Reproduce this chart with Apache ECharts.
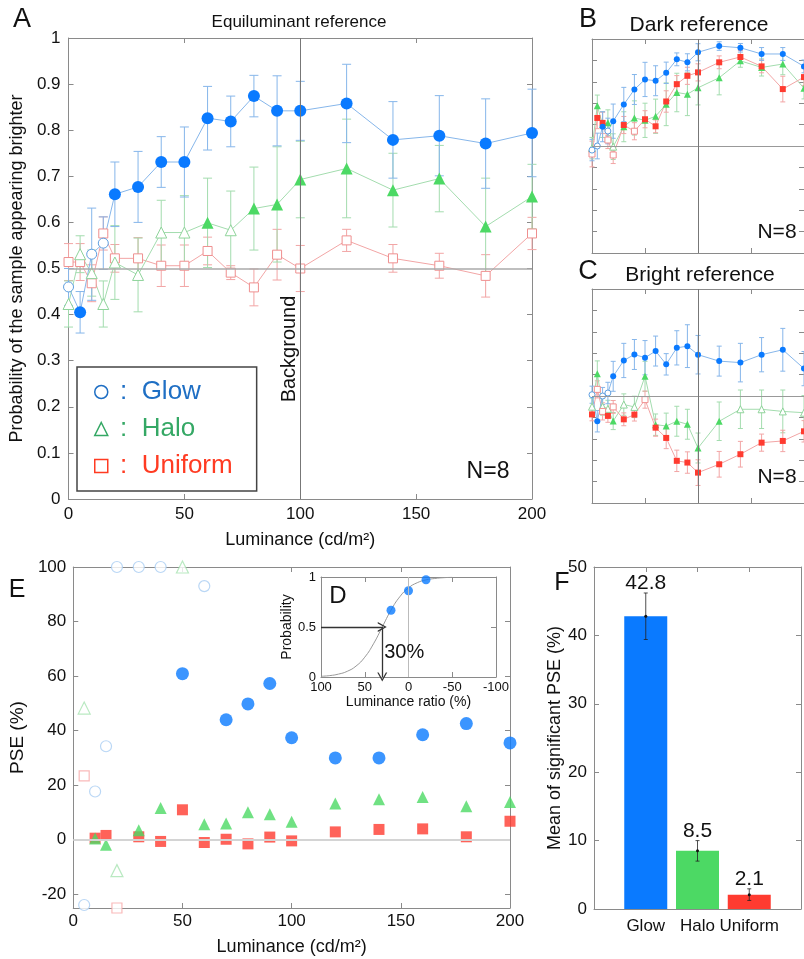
<!DOCTYPE html>
<html>
<head>
<meta charset="utf-8">
<script src="https://cdn.jsdelivr.net/npm/echarts@6/dist/echarts.min.js"></script>
<style>
html, body { margin: 0; padding: 0; background: #fff; }
#chart { width: 804px; height: 959px; }
</style>
</head>
<body>
<div id="chart"></div>
<script>
// luminance steps (cd/m2) used in panels A, B, C
const lum = [0, 5, 10, 15, 20, 30, 40, 50, 60, 70, 80, 90, 100, 120, 140, 160, 180, 200]

// A: equiluminant reference (probability, error, filled = significant)
const eqGlow = [0.46, 0.405, 0.531, 0.555, 0.661, 0.677, 0.731, 0.731, 0.826, 0.819, 0.874, 0.842, 0.842, 0.858, 0.779, 0.788, 0.771, 0.794]
const eqGlowErr = [0.04, 0.045, 0.1, 0.057, 0.07, 0.077, 0.055, 0.076, 0.069, 0.055, 0.045, 0.076, 0.064, 0.085, 0.083, 0.087, 0.097, 0.095]
const eqGlowSig = [0, 1, 0, 0, 1, 1, 1, 1, 1, 1, 1, 1, 1, 1, 1, 1, 1, 1]
const eqHalo = [0.423, 0.531, 0.49, 0.423, 0.513, 0.486, 0.578, 0.578, 0.599, 0.583, 0.63, 0.639, 0.693, 0.717, 0.67, 0.695, 0.591, 0.656]
const eqHaloErr = [0.05, 0.04, 0.05, 0.05, 0.08, 0.08, 0.07, 0.08, 0.097, 0.085, 0.09, 0.125, 0.083, 0.107, 0.08, 0.072, 0.105, 0.07]
const eqHaloSig = [0, 0, 0, 0, 0, 0, 0, 0, 1, 0, 1, 1, 1, 1, 1, 1, 1, 1]
const eqUni = [0.514, 0.514, 0.468, 0.576, 0.522, 0.522, 0.506, 0.506, 0.538, 0.491, 0.459, 0.53, 0.5, 0.561, 0.522, 0.506, 0.484, 0.576]
const eqUniErr = [0.04, 0.04, 0.04, 0.036, 0.03, 0.045, 0.045, 0.045, 0.03, 0.015, 0.04, 0.055, 0.05, 0.024, 0.03, 0.027, 0.046, 0.035]
const eqUniSig = [0, 0, 0, 0, 0, 0, 0, 0, 0, 0, 0, 0, 0, 0, 0, 0, 0, 0]

// B: dark reference
const dkGlow = [0.481, 0.5, 0.59, 0.57, 0.616, 0.694, 0.764, 0.811, 0.805, 0.842, 0.905, 0.891, 0.938, 0.967, 0.959, 0.93, 0.93, 0.872]
const dkGlowErr = [0.05, 0.06, 0.07, 0.06, 0.08, 0.08, 0.07, 0.08, 0.07, 0.05, 0.03, 0.04, 0.04, 0.02, 0.02, 0.03, 0.03, 0.03]
const dkGlowSig = [0, 0, 1, 0, 1, 1, 1, 1, 1, 1, 1, 1, 1, 1, 1, 1, 1, 1]
const dkHalo = [0.49, 0.688, 0.6, 0.609, 0.497, 0.59, 0.631, 0.62, 0.639, 0.695, 0.75, 0.742, 0.772, 0.819, 0.898, 0.867, 0.883, 0.77]
const dkHaloErr = [0.05, 0.05, 0.06, 0.06, 0.06, 0.07, 0.08, 0.08, 0.08, 0.1, 0.09, 0.1, 0.08, 0.08, 0.03, 0.04, 0.05, 0.05]
const dkHaloSig = [0, 1, 1, 1, 0, 1, 1, 1, 1, 1, 1, 1, 1, 1, 1, 1, 1, 1]
const dkUni = [0.4625, 0.631, 0.608, 0.528, 0.458, 0.598, 0.569, 0.625, 0.592, 0.708, 0.789, 0.828, 0.844, 0.891, 0.916, 0.872, 0.766, 0.822]
const dkUniErr = [0.06, 0.05, 0.05, 0.04, 0.04, 0.04, 0.04, 0.04, 0.03, 0.05, 0.04, 0.04, 0.04, 0.03, 0.03, 0.03, 0.06, 0.04]
const dkUniSig = [0, 1, 1, 0, 0, 1, 0, 1, 1, 1, 1, 1, 1, 1, 1, 1, 1, 1]

// C: bright reference
const brGlow = [0.506, 0.382, 0.5, 0.514, 0.592, 0.666, 0.694, 0.679, 0.71, 0.648, 0.725, 0.733, 0.693, 0.663, 0.656, 0.693, 0.716, 0.628]
const brGlowErr = [0.04, 0.05, 0.04, 0.05, 0.07, 0.08, 0.07, 0.08, 0.07, 0.05, 0.08, 0.1, 0.09, 0.07, 0.09, 0.08, 0.1, 0.08]
const brGlowSig = [0, 1, 0, 0, 1, 1, 1, 1, 1, 1, 1, 1, 1, 1, 1, 1, 1, 1]
const brHalo = [0.45, 0.604, 0.45, 0.44, 0.383, 0.46, 0.449, 0.592, 0.366, 0.36, 0.382, 0.368, 0.257, 0.382, 0.438, 0.438, 0.428, 0.422]
const brHaloErr = [0.04, 0.06, 0.04, 0.04, 0.04, 0.05, 0.05, 0.07, 0.05, 0.06, 0.07, 0.07, 0.07, 0.09, 0.09, 0.09, 0.1, 0.08]
const brHaloSig = [0, 1, 0, 0, 1, 0, 0, 1, 1, 1, 1, 1, 1, 1, 0, 0, 0, 0]
const brUni = [0.414, 0.531, 0.428, 0.407, 0.449, 0.391, 0.413, 0.483, 0.352, 0.304, 0.197, 0.189, 0.142, 0.181, 0.228, 0.282, 0.29, 0.335]
const brUniErr = [0.03, 0.04, 0.04, 0.03, 0.03, 0.03, 0.03, 0.04, 0.04, 0.05, 0.05, 0.05, 0.06, 0.06, 0.06, 0.04, 0.05, 0.05]
const brUniSig = [1, 0, 0, 1, 0, 1, 1, 0, 1, 1, 1, 1, 1, 1, 1, 1, 1, 1]

// E: PSE per luminance
const lumE = [5, 10, 15, 20, 30, 40, 50, 60, 70, 80, 90, 100, 120, 140, 160, 180, 200]
const pseGlow = [-23.9, 17.7, 34.3, 100, 100, 100, 60.9, 93, 44, 49.8, 57.3, 37.4, 30, 30, 38.5, 42.6, 35.5]
const pseGlowSig = [0, 0, 0, 0, 0, 0, 1, 0, 1, 1, 1, 1, 1, 1, 1, 1, 1]
const pseHalo = [48.3, 0.5, -1.8, -11.3, 3.5, 11.7, 100, 5.7, 6, 10.1, 9.4, 6.6, 13.3, 14.9, 15.7, 12.3, 13.9]
const pseHaloSig = [0, 1, 1, 0, 1, 1, 0, 1, 1, 1, 1, 1, 1, 1, 1, 1, 1]
const pseUni = [23.4, 0.6, 1.6, -25, 1.1, -0.6, 11, -1, 0.2, -1.5, 1, -0.4, 2.9, 3.8, 4, 1.1, 6.8]
const pseUniSig = [0, 1, 1, 0, 1, 1, 1, 1, 1, 1, 1, 1, 1, 1, 1, 1, 1]

// D: example psychometric function
const ratioPts = [20, 0, -20]
const probPts = [0.668, 0.862, 0.973]
const ratioCurve = [100, 90, 80, 70, 60, 50, 40, 30, 20, 10, 0, -10, -20, -30, -40, -50]
const probCurve = [0.007, 0.014, 0.029, 0.057, 0.109, 0.198, 0.332, 0.5, 0.668, 0.802, 0.891, 0.943, 0.971, 0.985, 0.993, 0.997]
const pseD = 30

// F: mean of significant PSE
const fCats = ['Glow', 'Halo', 'Uniform']
const fMeans = [42.8, 8.5, 2.1]
const fErrs = [3.4, 1.5, 0.85]

const FONT = '"Liberation Sans", Arial, sans-serif'
const axisCol = '#8a8a8a'
const COND = {
  Glow: { symbol: 'circle', fill: '#0a7aff', line: '#86b6ea', open: '#5e9ee0', openE: '#a9cdf3', legend: '#1f6fc4' },
  Halo: { symbol: 'triangle', fill: '#4cd964', line: '#a3dcae', open: '#8fd49b', openE: '#a8e3b2', legend: '#35a865' },
  Uniform: { symbol: 'rect', fill: '#ff3b30', line: '#f2a5a5', open: '#ef8f8f', openE: '#f7a8a8', legend: '#ff3b22' }
}

const xAxis = [], yAxis = []
function ax(grid, pos, min, max, interval, label, extra) {
  return Object.assign({
    gridIndex: grid, position: pos, type: 'value', min, max, interval,
    splitLine: { show: false },
    axisLine: { show: true, onZero: false, lineStyle: { color: axisCol, width: 1 } },
    axisTick: { show: true, inside: true, length: 5, lineStyle: { color: axisCol } },
    axisLabel: label ? Object.assign({ color: '#111', fontFamily: FONT, fontSize: 17 }, label) : { show: false },
    nameLocation: 'middle',
    nameTextStyle: { color: '#111', fontFamily: FONT, fontSize: 18 }
  }, extra || {})
}
// a boxed frame: labelled bottom/left axes plus bare top/right mirrors
function frame(grid, xr, yr, xl, yl, xe, ye, mirror) {
  const xi = xAxis.length, yi = yAxis.length
  xAxis.push(ax(grid, 'bottom', xr[0], xr[1], xr[2], xl, xe))
  xAxis.push(ax(grid, 'top', xr[0], xr[1], xr[2], null, { inverse: !!(xe && xe.inverse) }))
  yAxis.push(ax(grid, 'left', yr[0], yr[1], yr[2], yl, ye))
  yAxis.push(ax(grid, 'right', yr[0], yr[1], yr[2], null, mirror || {}))
  return [xi, yi]
}

const [ax0, ay0] = frame(0, [0, 200, 50], [0, 1, 0.1], { margin: 7 }, { margin: 8 },
  { name: 'Luminance (cd/m²)', nameGap: 32 },
  { name: 'Probability of the sample appearing brighter', nameGap: 38 })
const [bx, by] = frame(1, [0, 200, 50], [0, 1, 0.1], null, null)
const [cx, cy] = frame(2, [0, 200, 50], [0, 1, 0.1], null, null)
const [ex, ey] = frame(3, [0, 200, 50], [-25, 100], { margin: 5 }, { margin: 7, showMinLabel: false },
  { name: 'Luminance (cd/m²)', nameGap: 30 },
  { name: 'PSE (%)', nameGap: 30, splitNumber: 6, nameTextStyle: { color: '#111', fontFamily: FONT, fontSize: 19 } },
  { splitNumber: 6 })
const [dx, dy] = frame(4, [-100, 100, 50], [0, 1, 0.5], { fontSize: 13, margin: 4 }, { fontSize: 13, margin: 5 },
  { inverse: true, name: 'Luminance ratio (%)', nameGap: 18, nameTextStyle: { color: '#111', fontFamily: FONT, fontSize: 14 } },
  { name: 'Probability', nameGap: 24, nameTextStyle: { color: '#111', fontFamily: FONT, fontSize: 14 } })
const [fx, fy] = frame(5, [0, 4, 1], [0, 50, 10], { margin: 9, formatter: v => fCats[v - 1] || '' }, { margin: 7 },
  { axisTick: { show: false } },
  { name: 'Mean of significant PSE (%)', nameGap: 24 })

function refLines(xi, yi, lines) {
  return {
    type: 'line', xAxisIndex: xi, yAxisIndex: yi, data: [], silent: true, z: 1,
    markLine: { silent: true, symbol: 'none', animation: false, label: { show: false }, data: lines }
  }
}

function errBars(xi, yi, xs, ys, es, color, cap) {
  return {
    type: 'custom', xAxisIndex: xi, yAxisIndex: yi, silent: true, z: 2,
    data: xs.map((x, i) => [x, ys[i] - es[i], ys[i] + es[i]]),
    renderItem(params, api) {
      const lo = api.coord([api.value(0), api.value(1)])
      const hi = api.coord([api.value(0), api.value(2)])
      const style = { stroke: color, lineWidth: 1 }
      return {
        type: 'group', children: [
          { type: 'line', shape: { x1: lo[0], y1: lo[1], x2: hi[0], y2: hi[1] }, style },
          { type: 'line', shape: { x1: lo[0] - cap, y1: lo[1], x2: lo[0] + cap, y2: lo[1] }, style },
          { type: 'line', shape: { x1: hi[0] - cap, y1: hi[1], x2: hi[0] + cap, y2: hi[1] }, style }
        ]
      }
    }
  }
}

function condLine(xi, yi, name, ys, sig, sizes) {
  const c = COND[name]
  return {
    type: 'line', name, xAxisIndex: xi, yAxisIndex: yi, z: 3,
    symbol: c.symbol, showAllSymbol: true, emphasis: { disabled: true },
    lineStyle: { color: c.line, width: 1 },
    data: lum.map((x, i) => ({
      value: [x, ys[i]],
      symbolSize: sig[i] ? sizes[0] : sizes[1],
      itemStyle: sig[i] ? { color: c.fill, borderWidth: 0 } : { color: '#fff', borderColor: c.open, borderWidth: 1 }
    }))
  }
}

function panel(xi, yi, sets, sizes, cap) {
  const out = []
  sets.forEach(s => out.push(errBars(xi, yi, lum, s[1], s[2], COND[s[0]].line, cap)))
  sets.forEach(s => out.push(condLine(xi, yi, s[0], s[1], s[3], sizes[s[0]])))
  return out
}

const sizeA = { Glow: [12, 10], Halo: [12, 11], Uniform: [10, 9] }
const sizeBC = { Glow: [6, 6], Halo: [7, 7], Uniform: [6, 6] }

function pseSeries(name, vals, sig, sizes) {
  const c = COND[name]
  return {
    type: 'scatter', name, xAxisIndex: ex, yAxisIndex: ey, clip: false, z: 3,
    symbol: c.symbol, emphasis: { disabled: true },
    data: lumE.map((x, i) => ({
      value: [x, vals[i]],
      symbolSize: sig[i] ? sizes[0] : sizes[1],
      itemStyle: sig[i] ? { color: c.fill } : { color: '#fff', borderColor: c.openE, borderWidth: 1.2 }
    }))
  }
}

const chevron = 'path://M0,10L5,0L10,10L8.6,10L5,2.8L1.4,10Z'

const series = [
  refLines(ax0, ay0, [{ yAxis: 0.5, lineStyle: { color: '#aaa', width: 1.5, type: 'solid' } }, { xAxis: 100, lineStyle: { color: '#777', width: 1, type: 'solid' } }]),
  ...panel(ax0, ay0, [['Uniform', eqUni, eqUniErr, eqUniSig], ['Halo', eqHalo, eqHaloErr, eqHaloSig], ['Glow', eqGlow, eqGlowErr, eqGlowSig]], sizeA, 4.5),
  refLines(bx, by, [{ yAxis: 0.5, lineStyle: { color: '#999', width: 1, type: 'solid' } }, { xAxis: 100, lineStyle: { color: '#777', width: 1, type: 'solid' } }]),
  ...panel(bx, by, [['Halo', dkHalo, dkHaloErr, dkHaloSig], ['Uniform', dkUni, dkUniErr, dkUniSig], ['Glow', dkGlow, dkGlowErr, dkGlowSig]], sizeBC, 2.5),
  refLines(cx, cy, [{ yAxis: 0.5, lineStyle: { color: '#999', width: 1, type: 'solid' } }, { xAxis: 100, lineStyle: { color: '#777', width: 1, type: 'solid' } }]),
  ...panel(cx, cy, [['Halo', brHalo, brHaloErr, brHaloSig], ['Uniform', brUni, brUniErr, brUniSig], ['Glow', brGlow, brGlowErr, brGlowSig]], sizeBC, 2.5),
  refLines(ex, ey, [{ yAxis: 0, lineStyle: { color: '#d4d4d4', width: 2, type: 'solid' } }]),
  pseSeries('Uniform', pseUni, pseUniSig, [11, 10]),
  pseSeries('Halo', pseHalo, pseHaloSig, [12, 12]),
  pseSeries('Glow', pseGlow, pseGlowSig, [13, 11]),
  refLines(dx, dy, [{ xAxis: 0, lineStyle: { color: '#bbb', width: 1, type: 'solid' } }]),
  {
    type: 'line', xAxisIndex: dx, yAxisIndex: dy, z: 3, smooth: true, symbol: 'none', silent: true,
    lineStyle: { color: '#999', width: 1 },
    data: ratioCurve.map((r, i) => [r, probCurve[i]]),
    markLine: {
      silent: true, animation: false, label: { show: false },
      lineStyle: { color: '#333', width: 1.3, type: 'solid' },
      symbolSize: [10, 9],
      data: [
        [{ coord: [100, 0.5], symbol: 'none' }, { coord: [pseD, 0.5], symbol: chevron }],
        [{ coord: [pseD, 0.5], symbol: 'none' }, { coord: [pseD, 0], symbol: chevron }]
      ]
    },
    markPoint: {
      silent: true, animation: false, symbol: 'circle', symbolSize: 0,
      data: [{ coord: [pseD, 0.25], label: { show: true, position: 'right', distance: 2, formatter: pseD + '%', fontSize: 20, color: '#111', fontFamily: FONT } }]
    }
  },
  {
    type: 'scatter', xAxisIndex: dx, yAxisIndex: dy, z: 4, symbolSize: 9, silent: true,
    itemStyle: { color: COND.Glow.fill },
    data: ratioPts.map((r, i) => [r, probPts[i]])
  },
  {
    type: 'bar', xAxisIndex: fx, yAxisIndex: fy, barWidth: 43, silent: true, z: 2,
    data: fCats.map((c, i) => ({ value: [i + 1, fMeans[i]], itemStyle: { color: COND[c].fill } }))
  },
  {
    type: 'custom', xAxisIndex: fx, yAxisIndex: fy, silent: true, z: 4,
    data: fCats.map((c, i) => [i + 1, fMeans[i] - fErrs[i], fMeans[i] + fErrs[i], fMeans[i]]),
    renderItem(params, api) {
      const lo = api.coord([api.value(0), api.value(1)])
      const hi = api.coord([api.value(0), api.value(2)])
      const m = api.coord([api.value(0), api.value(3)])
      const style = { stroke: '#222', lineWidth: 0.8 }
      return {
        type: 'group', children: [
          { type: 'line', shape: { x1: lo[0], y1: lo[1], x2: hi[0], y2: hi[1] }, style },
          { type: 'line', shape: { x1: lo[0] - 2, y1: lo[1], x2: lo[0] + 2, y2: lo[1] }, style },
          { type: 'line', shape: { x1: hi[0] - 2, y1: hi[1], x2: hi[0] + 2, y2: hi[1] }, style },
          { type: 'circle', shape: { cx: m[0], cy: m[1], r: 1.5 }, style: { fill: '#111' } },
          {
            type: 'text', x: hi[0], y: hi[1] + 1,
            style: {
              text: api.value(3).toFixed(1), font: '21px ' + FONT, fill: '#111',
              align: 'center', verticalAlign: 'bottom', textAlign: 'center', textVerticalAlign: 'bottom'
            }
          }
        ]
      }
    }
  }
]

function label(text, x, y, size, rot) {
  return {
    type: 'text', x, y, rotation: rot || 0, silent: true,
    style: {
      text, font: size + 'px ' + FONT, fill: '#111',
      align: 'center', verticalAlign: 'middle', textAlign: 'center', textVerticalAlign: 'middle'
    }
  }
}

const chart = echarts.init(document.getElementById('chart'))
chart.setOption({
  animation: false,
  backgroundColor: '#fff',
  grid: [
    { left: 67, top: 38, width: 465, height: 461 },
    { left: 592, top: 39, width: 213, height: 214 },
    { left: 592, top: 289, width: 213, height: 214 },
    { left: 65, top: 567, width: 445, height: 341 },
    { left: 321, top: 577, width: 175, height: 100 },
    { left: 594, top: 567, width: 210, height: 342 }
  ],
  xAxis, yAxis,
  legend: {
    left: 77, top: 367, orient: 'vertical', selectedMode: false,
    padding: [11, 24, 11, 17], itemGap: 9, itemWidth: 13, itemHeight: 13,
    borderColor: '#444', borderWidth: 1.5, backgroundColor: '#fff',
    textStyle: { fontSize: 26, fontFamily: FONT, lineHeight: 28 },
    formatter: name => ' :  ' + name,
    data: ['Glow', 'Halo', 'Uniform'].map(n => ({
      name: n, icon: n === 'Uniform' ? 'rect' : COND[n].symbol,
      itemStyle: { color: '#fff', borderColor: COND[n].legend, borderWidth: 1.5 },
      textStyle: { color: COND[n].legend }
    }))
  },
  graphic: [
    label('A', 22, 20, 27), label('B', 588, 20, 27), label('C', 588, 272, 27),
    label('E', 17, 590, 25), label('D', 338, 596, 24), label('F', 562, 583, 25),
    label('Equiluminant reference', 299, 22, 17),
    label('Dark reference', 699, 25, 21), label('Bright reference', 700, 275, 21),
    label('N=8', 488, 472, 23), label('N=8', 777, 232, 21), label('N=8', 777, 477, 21),
    label('Background', 289, 349, 20, Math.PI / 2)
  ],
  series
})
</script>
</body>
</html>
